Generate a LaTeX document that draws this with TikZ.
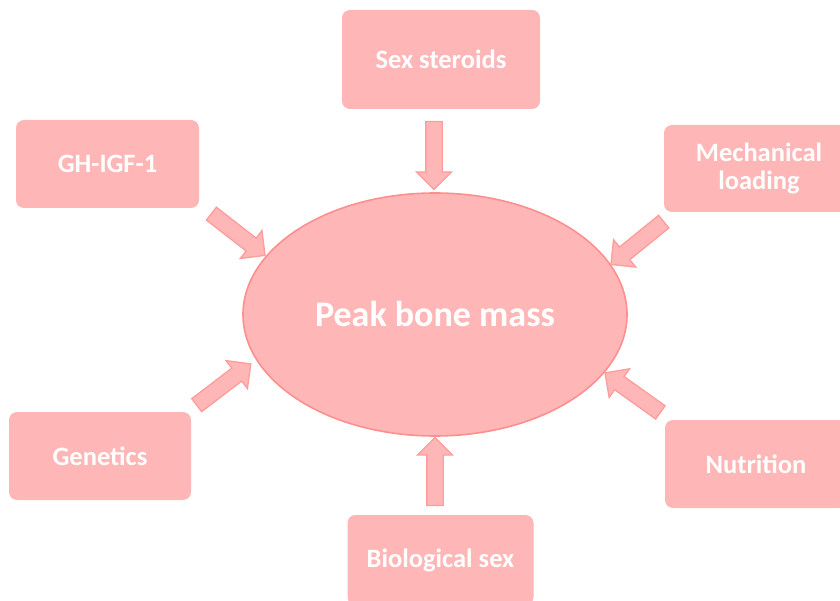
\documentclass[tikz,border=0pt]{standalone}
\usepackage{fontspec}
\setmainfont{Carlito}
\usetikzlibrary{shapes.arrows,shapes.geometric}
\definecolor{bonefill}{RGB}{255,182,182}
\definecolor{boneline}{RGB}{255,143,143}
\definecolor{arrowline}{RGB}{255,156,156}

\begin{document}
\begin{tikzpicture}[x=1pt,y=-1pt,
  factor/.style={fill=bonefill,rounded corners=8pt,text=white,font=\bfseries\fontsize{26.5}{28}\selectfont,align=center,inner sep=0pt},
  inarrow/.style={single arrow,draw=arrowline,fill=bonefill,line width=1.3pt,text height=8pt,text depth=7pt,
    single arrow head extend=9.5pt,minimum height=68pt,inner sep=0pt,sloped,allow upside down}]
  \useasboundingbox (0,0) rectangle (840,601);
  \clip (0,0) rectangle (840,601);
  \node[ellipse,fill=bonefill,draw=boneline,line width=1.6pt,minimum width=384pt,minimum height=243pt,
    text=white,font=\bfseries\fontsize{36}{40}\selectfont] (pbm) at (435,314.5) {Peak bone mass};
  \node[factor,minimum width=198pt,minimum height=99pt] (st) at (441,59.5) {Sex steroids};
  \node[factor,minimum width=183pt,minimum height=88pt] (gh) at (107.5,164) {GH-IGF-1};
  \node[factor,minimum width=190pt,minimum height=87pt] (mech) at (759,168.5) {Mechanical\\loading};
  \node[factor,minimum width=182pt,minimum height=88pt] (gen) at (100,456) {Genetics};
  \node[factor,minimum width=182pt,minimum height=88pt] (nutr) at (756,464) {Nutrition};
  \node[factor,minimum width=186pt,minimum height=90pt] (bio) at (440.5,560) {Biological sex};
  % block arrows, tail then tip
  \coordinate (st-t) at (434,117);   \coordinate (st-h) at (434,186);
  \coordinate (gh-t) at (208,211);   \coordinate (gh-h) at (262,253);
  \coordinate (mech-t) at (667,219); \coordinate (mech-h) at (614,262);
  \coordinate (gen-t) at (193,408);  \coordinate (gen-h) at (248,366);
  \coordinate (nutr-t) at (664,415); \coordinate (nutr-h) at (608,375);
  \coordinate (bio-t) at (435,510);  \coordinate (bio-h) at (435,441);
  \foreach \f in {st,gh,mech,gen,nutr,bio}
    \path (\f-t) -- (\f-h) node[midway,inarrow] {};
\end{tikzpicture}
\end{document}
